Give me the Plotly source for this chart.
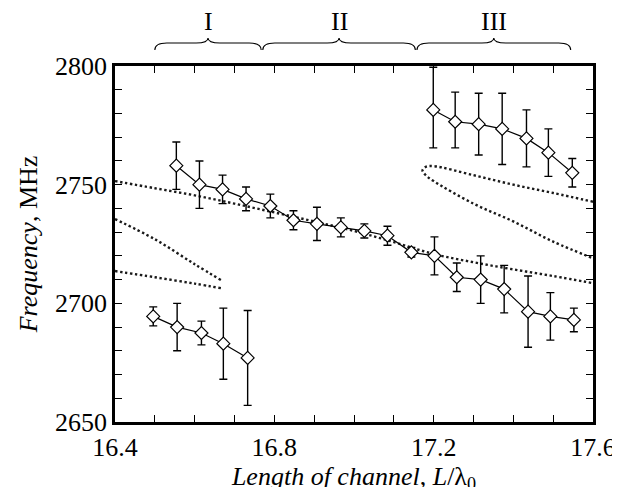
import plotly.graph_objects as go

# ---- data ----
x_low = [16.496, 16.556, 16.617, 16.672, 16.733]
y_low = [2694.5, 2690.0, 2687.5, 2683.0, 2677.0]
e_low = [4, 10, 5, 15, 20]

x_mid = [16.554, 16.612, 16.670, 16.729, 16.790, 16.848, 16.907, 16.967, 17.026,
         17.084, 17.144, 17.202, 17.258, 17.318, 17.377, 17.437, 17.493, 17.552]
y_mid = [2758.0, 2750.0, 2748.0, 2744.0, 2741.0, 2735.0, 2733.5, 2732.0, 2730.5,
         2728.5, 2721.5, 2720.0, 2711.0, 2710.0, 2706.0, 2696.5, 2694.5, 2693.0]
e_mid = [10, 10, 6, 5, 5, 4, 7, 4, 3, 4, 2, 8, 6, 10, 10, 15, 10, 5]

x_up = [17.199, 17.254, 17.313, 17.372, 17.433, 17.488, 17.548]
y_up = [2781.5, 2776.5, 2775.5, 2773.5, 2769.5, 2763.5, 2755.0]
e_up_plus = [18, 12.5, 13, 15, 12, 10, 6]
e_up_minus = [16, 11, 13, 15, 12, 10, 6]

# theory curves (dotted)
ca_x = [16.4, 16.5, 16.6, 16.7, 16.8, 16.9, 17.0, 17.1, 17.2, 17.3, 17.4, 17.5, 17.6]
ca_y = [2751.5, 2748.5, 2745.5, 2742.0, 2738.3, 2734.5, 2730.5, 2725.8, 2720.8,
        2717.3, 2714.3, 2711.5, 2708.5]

cb_up_x = [16.4, 16.5, 16.6, 16.669]
cb_up_y = [2735.5, 2727.0, 2716.5, 2709.5]
cb_lo_x = [16.4, 16.5, 16.6, 16.669]
cb_lo_y = [2713.6, 2711.0, 2708.3, 2706.3]

cc_x = [17.6, 17.5, 17.4, 17.3, 17.2, 17.18, 17.172, 17.18, 17.2, 17.3, 17.4, 17.5, 17.6]
cc_y = [2742.8, 2746.5, 2750.0, 2754.0, 2757.8, 2757.5, 2756.0, 2754.0, 2751.5,
        2742.0, 2734.5, 2726.0, 2719.0]

brace_ranges = [(16.500, 16.767), (16.771, 17.154), (17.158, 17.544)]
brace_labels = ["I", "II", "III"]

x_ticks = [16.4, 16.8, 17.2, 17.6]
y_ticks = [2650, 2700, 2750, 2800]

FONT = "Liberation Serif, Times New Roman, serif"
FS = 26

fig = go.Figure()

dot_style = dict(color="#1a1a1a", width=2.4, dash="2.4px,2.6px")
fig.add_trace(go.Scatter(x=ca_x, y=ca_y, mode="lines", line=dict(shape="spline", **dot_style)))
fig.add_trace(go.Scatter(x=cb_up_x, y=cb_up_y, mode="lines", line=dict(shape="spline", **dot_style)))
fig.add_trace(go.Scatter(x=cb_lo_x, y=cb_lo_y, mode="lines", line=dict(shape="spline", **dot_style)))
fig.add_trace(go.Scatter(x=cc_x, y=cc_y, mode="lines", line=dict(shape="spline", **dot_style)))

marker = dict(symbol="diamond", size=10, color="white", line=dict(color="black", width=1.2))
for xs, ys, ep, em in [(x_low, y_low, e_low, e_low),
                       (x_mid, y_mid, e_mid, e_mid),
                       (x_up, y_up, e_up_plus, e_up_minus)]:
    fig.add_trace(go.Scatter(
        x=xs, y=ys, mode="lines+markers",
        line=dict(color="black", width=1.2),
        marker=marker,
        error_y=dict(type="data", array=ep, arrayminus=em, color="black",
                     thickness=1.4, width=4),
    ))

# braces on top
y_end, y_line, y_peak = 1.045, 1.0646, 1.0787
dx = 0.03
for (a, b), lab in zip(brace_ranges, brace_labels):
    m = (a + b) / 2
    path = (f"M {a},{y_end} Q {a},{y_line} {a+dx},{y_line} L {m-dx},{y_line} "
            f"Q {m},{y_line} {m},{y_peak} Q {m},{y_line} {m+dx},{y_line} "
            f"L {b-dx},{y_line} Q {b},{y_line} {b},{y_end}")
    fig.add_shape(type="path", path=path, xref="x", yref="paper",
                  line=dict(color="black", width=1.1))
    fig.add_annotation(x=m, y=1.124, xref="x", yref="paper", text=lab,
                       showarrow=False, yanchor="middle",
                       font=dict(family=FONT, size=FS, color="black"))

axis_common = dict(
    showline=True, linecolor="black", linewidth=2.5, mirror="ticks",
    ticks="inside", ticklen=7, tickwidth=1.3, tickcolor="black",
    showgrid=False, zeroline=False,
    tickfont=dict(family=FONT, size=FS, color="black"),
)

fig.update_layout(
    width=620, height=487,
    margin=dict(l=107, r=33, t=58, b=73),
    paper_bgcolor="white", plot_bgcolor="white",
    showlegend=False,
    xaxis=dict(range=[16.4, 17.6], tickvals=x_ticks,
               ticktext=[f"{v:.1f}" for v in x_ticks],
               minor=dict(dtick=0.1, tick0=16.4, ticks="inside", ticklen=7,
                          tickwidth=1.3, tickcolor="black"),
               title=dict(text="<i>Length of channel</i>, <i>L</i>/λ<sub>0</sub>",
                          font=dict(family=FONT, size=FS, color="black"), standoff=0),
               **axis_common),
    yaxis=dict(range=[2650, 2800], tickvals=y_ticks,
               minor=dict(dtick=10, tick0=2650, ticks="inside", ticklen=7,
                          tickwidth=1.3, tickcolor="black"),
               title=dict(text="<i>Frequency</i>, MHz",
                          font=dict(family=FONT, size=FS, color="black"), standoff=10),
               **axis_common),
)

fig.write_html("out.html")
